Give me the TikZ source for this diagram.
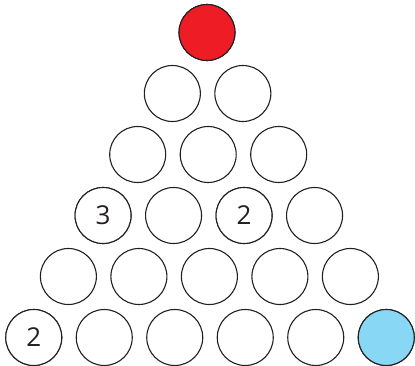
\documentclass[tikz,border=0pt]{standalone}
\usepackage{fontspec}
\setmainfont{Open Sans}
\definecolor{ink}{HTML}{231F20}
\definecolor{topred}{HTML}{EE1C25}
\definecolor{botblue}{HTML}{87D7F5}
\tikzset{
  ball/.style={circle, draw=ink, line width=1.1pt, minimum size=56pt, inner sep=0pt, fill=white, font=\fontsize{26}{26}\selectfont, text=ink},
}
\begin{document}
\begin{tikzpicture}[x=1pt,y=-1pt]
\useasboundingbox (0,0) rectangle (415,366);
% rows: r=1..6, y = 32.5 + 61(r-1), x center = 207 + 0.6(r-1), spacing 70.5
\foreach \r in {1,...,6}{
  \foreach \k in {1,...,\r}{
    \pgfmathsetmacro{\xx}{207 + 0.6*(\r-1) + 70.5*(\k - (\r+1)/2)}
    \pgfmathsetmacro{\yy}{32.5 + 61*(\r-1)}
    \node[ball] (b\r-\k) at (\xx,\yy) {};
  }
}
\node[ball, fill=topred] at (b1-1) {};
\node[ball, fill=botblue] at (b6-6) {};
\node[ball] at (b4-1) {3};
\node[ball] at (b4-3) {2};
\node[ball] at (b6-1) {2};
\end{tikzpicture}
\end{document}
